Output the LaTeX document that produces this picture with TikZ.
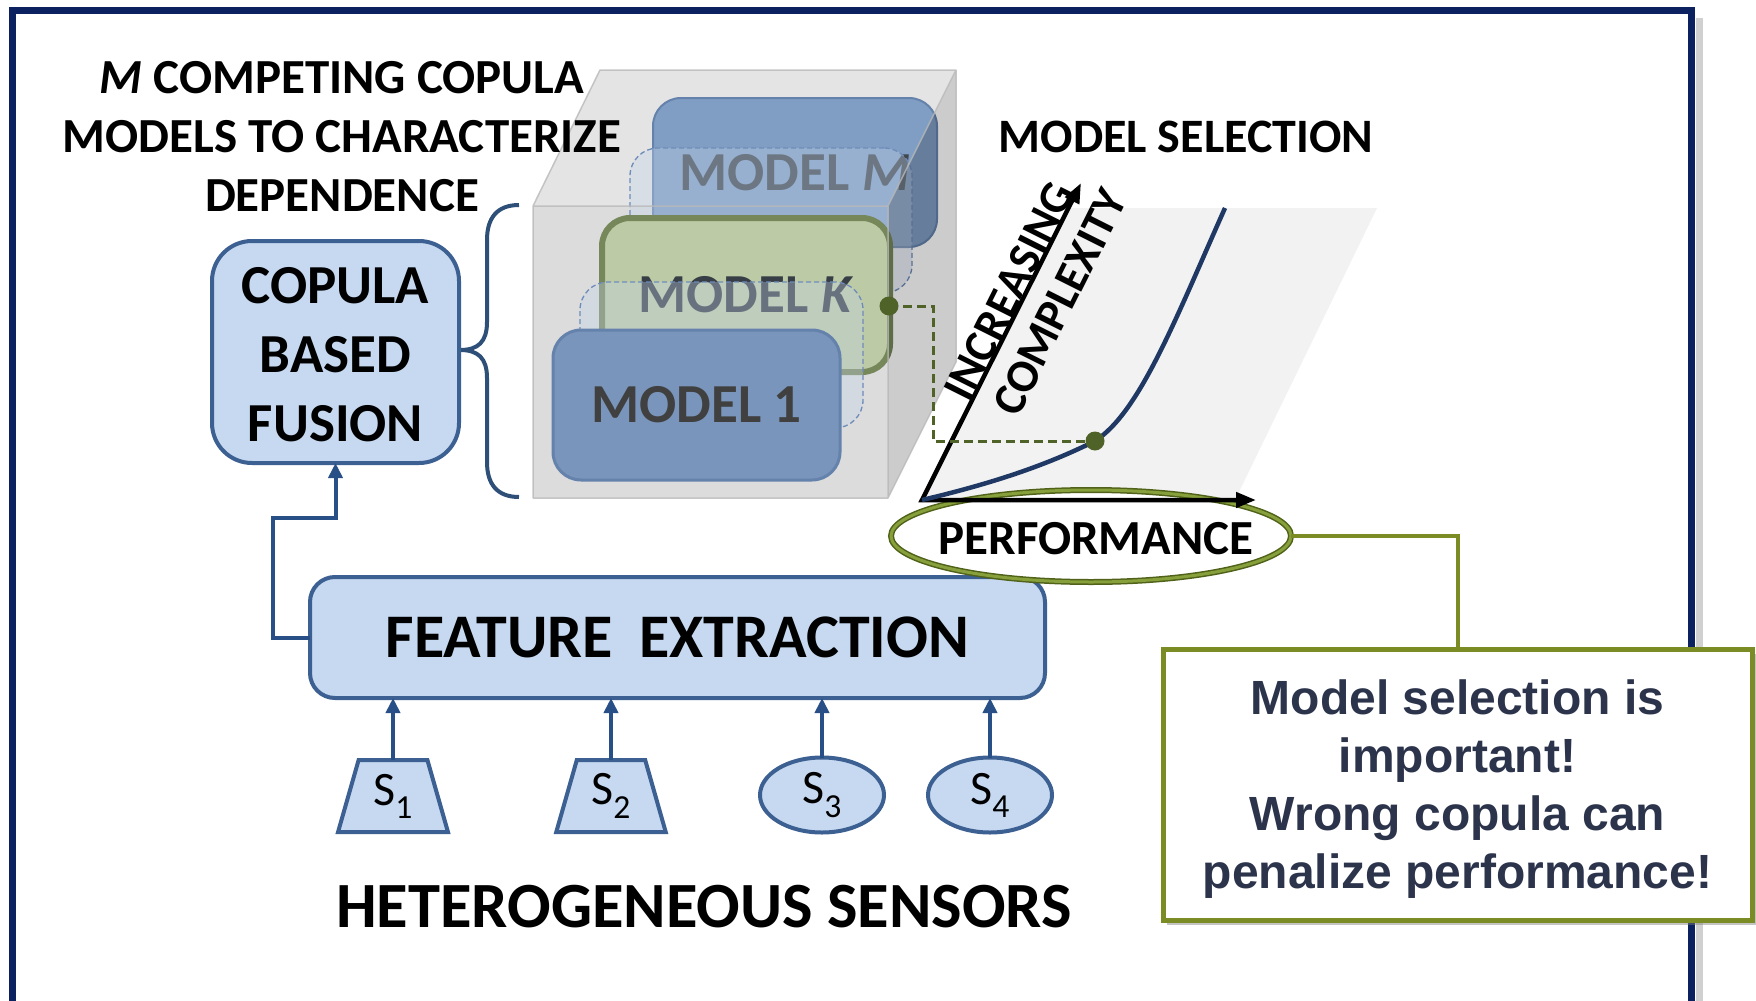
\documentclass[tikz,border=0pt]{standalone}
\usepackage{fontspec}
\setmainfont{Carlito}
\newfontfamily\notefont{Liberation Sans}
\usetikzlibrary{arrows.meta,shapes.geometric,shadows}

\definecolor{framenavy}{RGB}{12,34,96}
\definecolor{lightblue}{RGB}{198,217,241}
\definecolor{boxborder}{RGB}{60,96,145}
\definecolor{arrowblue}{RGB}{40,80,134}
\definecolor{modelblue}{RGB}{121,149,187}
\definecolor{modelbluedark}{RGB}{100,130,172}
\definecolor{modelMblue}{RGB}{128,158,195}
\definecolor{ghostfill}{RGB}{196,212,234}
\definecolor{ghostline}{RGB}{110,140,185}
\definecolor{kfill}{RGB}{189,202,166}
\definecolor{kline}{RGB}{118,135,90}
\definecolor{dotgreen}{RGB}{79,98,40}
\definecolor{curveblue}{RGB}{31,56,100}
\definecolor{olive}{RGB}{122,140,35}
\definecolor{olivedark}{RGB}{80,98,25}
\definecolor{olivelight}{RGB}{135,160,60}
\definecolor{notetext}{RGB}{44,52,76}
\definecolor{chartgray}{RGB}{242,242,242}
\definecolor{cubefront}{RGB}{220,220,220}
\definecolor{cubetop}{RGB}{228,228,228}
\definecolor{cubeedge}{RGB}{185,185,185}
\definecolor{bracecol}{RGB}{46,80,120}
\definecolor{modeltext}{RGB}{64,64,64}
\definecolor{ktext}{RGB}{56,62,70}
\definecolor{mtext}{RGB}{63,70,78}

\begin{document}
\begin{tikzpicture}[x=1pt,y=-1pt,
  every node/.style={inner sep=0pt, outer sep=0pt},
  bluebox/.style={draw=boxborder, fill=lightblue, line width=4pt},
  flow/.style={draw=arrowblue, line width=4pt, -{Triangle[length=15pt,width=14pt]}},
  modelbox/.style={rounded corners=28pt, font=\fontsize{55}{60}\selectfont\bfseries},
  ghostbox/.style={rounded corners=28pt, draw=ghostline, line width=1.3pt, dash pattern=on 5pt off 3pt, fill=ghostfill, fill opacity=0.35},
  sensortrap/.style={bluebox, trapezium, trapezium left angle=75, trapezium right angle=75, trapezium stretches=true, minimum width=110pt, minimum height=72pt, font=\fontsize{48}{50}\selectfont},
  sensorell/.style={bluebox, ellipse, minimum width=124pt, minimum height=75pt, font=\fontsize{48}{50}\selectfont},
  axislabel/.style={font=\fontsize{46}{50}\selectfont\bfseries, rotate=63.4},
  axisline/.style={draw=black, line width=4.5pt, line join=miter},
  headtext/.style={font=\fontsize{49}{59}\selectfont\bfseries, align=center},
  dashgreen/.style={draw=dotgreen, line width=3pt, dash pattern=on 9pt off 5pt}
]
\useasboundingbox (0,0) rectangle (1756,1001);
\fill[white] (0,0) rectangle (1756,1001);

% frame and its shadow
\draw[black!30, line width=7pt, opacity=0.6] (1699,18) -- (1699,1001);
\draw[framenavy, line width=7pt] (12,10) rectangle (1691,1040);

% chart background
\fill[chartgray] (922,500) -- (1068,208) -- (1377,208) -- (1235,500) -- cycle;

% cube faces
\fill[cubetop] (533,206) -- (600,70) -- (956,70) -- (888,206) -- cycle;
\fill[cubefront] (533,206) rectangle (888,498);
\fill[white] (888,206) -- (956,70) -- (956,362) -- (888,498) -- cycle;

% model layers
\node[modelbox, draw=modelbluedark, line width=2pt, fill=modelMblue, text=mtext, minimum width=284pt, minimum height=149pt] (mM) at (795,172.5) {MODEL \textit{M}};
\node[ghostbox, minimum width=282pt, minimum height=145pt] (g1) at (771,220.5) {};
\node[modelbox, draw=kline, line width=6pt, fill=kfill, text=ktext, minimum width=288pt, minimum height=154pt] (mK) at (746,295) {MODEL \textit{K}};
\node[ghostbox, minimum width=283pt, minimum height=146pt] (g2) at (721.5,355) {};
\node[modelbox, draw=modelbluedark, line width=3pt, fill=modelblue, text=modeltext, minimum width=287pt, minimum height=150pt] (m1) at (696.5,405) {MODEL 1};

% cube right face overlay and edges
\fill[black, fill opacity=0.2] (888,206) -- (956,70) -- (956,362) -- (888,498) -- cycle;
\draw[cubeedge, line width=1.5pt, opacity=0.8, line join=round]
  (533,206) rectangle (888,498)
  (533,206) -- (600,70) -- (956,70) -- (888,206)
  (956,70) -- (956,362) -- (888,498);

% brace
\draw[bracecol, line width=4pt] (519,205) .. controls (497,205) and (487,218) .. (487,240) -- (487,322)
  .. controls (487,342) and (478,350) .. (460,350)
  .. controls (478,350) and (487,358) .. (487,378) -- (487,462)
  .. controls (487,484) and (497,497) .. (519,497);

% titles
\node[headtext] (title) at (342,137) {\textit{M} COMPETING COPULA\\MODELS TO CHARACTERIZE\\DEPENDENCE};
\node[font=\fontsize{48}{58}\selectfont\bfseries] (selhead) at (1186,137) {MODEL SELECTION};

% fusion and feature extraction
\node[bluebox, rounded corners=40pt, minimum width=247pt, minimum height=222pt] (cop) at (335.5,352) {};
\node[align=center, font=\fontsize{55}{69}\selectfont\bfseries] (coptxt) at (335.5,355) {COPULA\\BASED\\FUSION};
\node[bluebox, rounded corners=25pt, minimum width=735pt, minimum height=121pt, font=\fontsize{62}{66}\selectfont\bfseries] (fe) at (677.5,637.5) {FEATURE\hspace{0.2em} EXTRACTION};

\coordinate (elbowx) at (273,637.5);
\coordinate (bend) at (335.5,518);
\draw[flow] (fe.west) -- (elbowx) |- (bend) -- (cop.south);

% sensors
\node[sensortrap] (s1) at (393,796) {S\textsubscript{1}};
\node[sensortrap] (s2) at (611,796) {S\textsubscript{2}};
\node[sensorell] (s3) at (822,795) {S\textsubscript{3}};
\node[sensorell] (s4) at (990,795) {S\textsubscript{4}};
\foreach \s in {s1,s2,s3,s4}{
  \draw[flow] (\s.north) -- (\s.north |- fe.south);
}
\node[font=\fontsize{64.5}{70}\selectfont\bfseries] (senslabel) at (704,907) {HETEROGENEOUS SENSORS};

% performance ellipse
\node[ellipse, draw=olivedark, double=olivelight, double distance=3pt, line width=1.5pt, fill=white, minimum width=400pt, minimum height=92pt] (perf) at (1091,536) {};
\node[font=\fontsize{49}{50}\selectfont\bfseries] (perftxt) at (1096,539) {PERFORMANCE};

% axes
\coordinate (O) at (922,500);
\coordinate (Ytip) at (1081,183);
\coordinate (Xtip) at (1256,500);
\draw[axisline, {Triangle[length=20pt,width=15pt]}-{Triangle[length=20pt,width=15pt]}] (Ytip) -- (O) -- (Xtip);
\node[axislabel] (inc) at (1009,291) {INCREASING};
\node[axislabel] (cpx) at (1060,302) {COMPLEXITY};

% curve and selection link
\coordinate (selpt) at (1095,441);
\coordinate (kdot) at (889,306);
\coordinate (dashtop) at (933,306);
\draw[dashgreen] (kdot) -- (dashtop) |- (selpt);
\draw[curveblue, line width=4.5pt] (O) .. controls (990,484) and (1045,466) .. (selpt)
  .. controls (1140,412) and (1175,320) .. (1225,208);
\fill[dotgreen] (kdot) circle (9.5pt);
\fill[dotgreen] (selpt) circle (9.5pt);

% callout
\node[draw=olive, line width=5pt, fill=white, minimum width=589pt, minimum height=271pt,
  drop shadow={shadow xshift=4pt, shadow yshift=-5pt, opacity=0.45}] (note) at (1457.5,784.5) {};
\node[font=\notefont\fontsize{48}{58}\selectfont\bfseries, text=notetext, align=center] (notetxt) at (1457.5,789) {Model selection is\\important!\\Wrong copula can\\penalize performance!};
\draw[olive, line width=4pt] (perf.east) -| (note.north);
\end{tikzpicture}
\end{document}
